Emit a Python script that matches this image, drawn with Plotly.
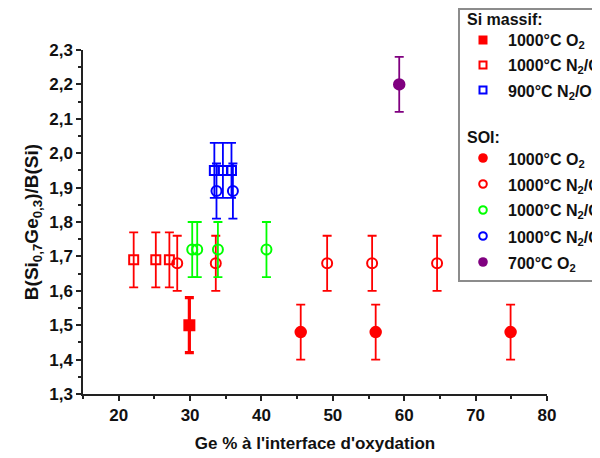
import plotly.graph_objects as go

# ---------------- data ----------------
err = 0.08
si_o2_x = [29.9]
si_o2_y = [1.50]
si_n2_x = [22.1, 25.2, 27.1]
si_n2_y = [1.69, 1.69, 1.69]
si_900_x = [33.4, 34.6, 35.8]
si_900_y = [1.95, 1.95, 1.95]
soi_o2_x = [45.5, 56.0, 74.9]
soi_o2_y = [1.48, 1.48, 1.48]
soi_n2_red_x = [28.2, 33.6, 49.2, 55.5, 64.6]
soi_n2_red_y = [1.68, 1.68, 1.68, 1.68, 1.68]
soi_n2_green_x = [30.3, 31.0, 33.9, 40.7]
soi_n2_green_y = [1.72, 1.72, 1.72, 1.72]
soi_n2_blue_x = [33.7, 36.0]
soi_n2_blue_y = [1.89, 1.89]
soi_700_x = [59.3]
soi_700_y = [2.20]

x_ticks = [20, 30, 40, 50, 60, 70, 80]
y_ticks = [1.3, 1.4, 1.5, 1.6, 1.7, 1.8, 1.9, 2.0, 2.1, 2.2, 2.3]

RED = "#ff0000"
GREEN = "#00ff00"
BLUE = "#0000ff"
PURPLE = "#800080"
FONT = "Liberation Sans, Arial, sans-serif"

# page body has an 8px margin: figure drawn at (8,8) in the 600x458 window
OFF = 8
W, H = 600 - OFF, 458 - OFF
ML, MT = 83 - OFF, 50 - OFF
MR = W - (547 - OFF)
MB = H - (394 - OFF)

series = [
    (soi_n2_red_x, soi_n2_red_y, RED, "circle-open", 10, 1.8),
    (soi_n2_green_x, soi_n2_green_y, GREEN, "circle-open", 10, 1.8),
    (si_n2_x, si_n2_y, RED, "square-open", 9, 1.8),
    (soi_o2_x, soi_o2_y, RED, "circle", 10.5, 1.8),
    (si_900_x, si_900_y, BLUE, "square-open", 9, 1.8),
    (soi_n2_blue_x, soi_n2_blue_y, BLUE, "circle-open", 10, 1.8),
    (soi_700_x, soi_700_y, PURPLE, "circle", 10.5, 1.8),
    (si_o2_x, si_o2_y, RED, "square", 10, 3.2),
]

fig = go.Figure()
for xs, ys, col, sym, size, ew in series:
    fig.add_trace(go.Scatter(
        x=xs, y=ys, mode="markers",
        marker=dict(symbol=sym, size=size, color=col,
                    line=dict(color=col, width=2)),
        error_y=dict(type="constant", value=err, color=col,
                     thickness=ew, width=4.5),
        showlegend=False, cliponaxis=False,
    ))

axis_common = dict(
    showline=True, linecolor="#222", linewidth=1.5,
    ticks="outside", ticklen=5, tickwidth=1.5, tickcolor="#222",
    showgrid=False, zeroline=False,
    tickfont=dict(family=FONT, size=17, color="#111", weight="bold"),
)

fig.update_xaxes(
    range=[15, 80], tickvals=x_ticks,
    minor=dict(ticks="outside", ticklen=3, tickwidth=1.5, tickcolor="#222", dtick=5, tick0=0),
    title=dict(text="Ge % à l'interface d'oxydation",
               font=dict(family=FONT, size=17, color="#111", weight="bold"), standoff=13),
    **axis_common,
)
fig.update_yaxes(
    range=[1.3, 2.3], tickvals=y_ticks, tickformat=".1f",
    minor=dict(ticks="outside", ticklen=3, tickwidth=1.5, tickcolor="#222", dtick=0.05, tick0=0),
    title=dict(text="B(Si<sub>0,7</sub>Ge<sub>0,3</sub>)/B(Si)",
               font=dict(family=FONT, size=19, color="#111", weight="bold"), standoff=6),
    **axis_common,
)

# ---------------- manual legend (positions in window pixels) ----------------
PW, PH = W - ML - MR, H - MT - MB


def px(xp):
    return (xp - OFF - ML) / PW


def py(yp):
    return (H - MB - (yp - OFF)) / PH


shapes = [dict(type="rect", xref="paper", yref="paper",
               x0=px(459), x1=px(650), y0=py(281), y1=py(9),
               line=dict(color="#8c8c8c", width=2), fillcolor="white", layer="above")]

legend_items = [
    ("Si massif:", None, None, None, 19),
    ("1000°C O<sub>2</sub>", "rect", RED, True, 40),
    ("1000°C N<sub>2</sub>/O<sub>2</sub>", "rect", RED, False, 65),
    ("900°C N<sub>2</sub>/O<sub>2</sub>", "rect", BLUE, False, 90),
    ("SOI:", None, None, None, 137),
    ("1000°C O<sub>2</sub>", "circle", RED, True, 158),
    ("1000°C N<sub>2</sub>/O<sub>2</sub>", "circle", RED, False, 184),
    ("1000°C N<sub>2</sub>/O<sub>2</sub>", "circle", GREEN, False, 210),
    ("1000°C N<sub>2</sub>/O<sub>2</sub>", "circle", BLUE, False, 236),
    ("700°C O<sub>2</sub>", "circle", PURPLE, True, 262),
]

annotations = []
for text, kind, col, filled, yc in legend_items:
    if kind is None:
        annotations.append(dict(text=text, xref="paper", yref="paper", x=px(465), y=py(yc),
                                xanchor="left", yanchor="middle", showarrow=False,
                                font=dict(family=FONT, size=16, color="#111", weight="bold")))
    else:
        h = 4.5 if kind == "rect" else 4.8
        lw = 2 if not filled else 0
        shapes.append(dict(type=kind, xref="paper", yref="paper",
                           xsizemode="pixel", ysizemode="pixel",
                           xanchor=px(483), yanchor=py(yc),
                           x0=-h + (lw / 2), x1=h - (lw / 2), y0=-h + (lw / 2), y1=h - (lw / 2),
                           line=dict(color=col, width=lw),
                           fillcolor=col if filled else "white", layer="above"))
        annotations.append(dict(text=text, xref="paper", yref="paper", x=px(506), y=py(yc + 2),
                                xanchor="left", yanchor="middle", showarrow=False,
                                font=dict(family=FONT, size=16, color="#111", weight="bold")))

fig.update_layout(
    width=W, height=H,
    margin=dict(l=ML, r=MR, t=MT, b=MB, autoexpand=False),
    paper_bgcolor="white", plot_bgcolor="white",
    separators=",.",
    shapes=shapes, annotations=annotations,
    showlegend=False,
)

fig.write_html("out.html")
